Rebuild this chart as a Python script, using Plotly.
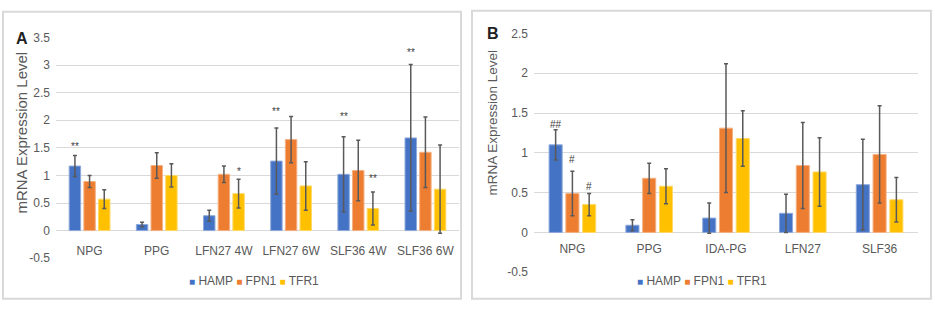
import plotly.graph_objects as go

# ---------------- data ----------------
series = ["HAMP", "FPN1", "TFR1"]
colors = ["#4472C4", "#ED7D31", "#FFC000"]
edge_colors = ["#8EA9DB", "#F4B183", "#FFD966"]

cats_A = ["NPG", "PPG", "LFN27 4W", "LFN27 6W", "SLF36 4W", "SLF36 6W"]
hamp_A = [1.17, 0.11, 0.27, 1.26, 1.02, 1.68]
hamp_A_err = [0.19, 0.04, 0.10, 0.60, 0.68, 1.33]
fpn1_A = [0.89, 1.18, 1.02, 1.65, 1.09, 1.42]
fpn1_A_err = [0.11, 0.23, 0.15, 0.42, 0.55, 0.64]
tfr1_A = [0.57, 1.00, 0.67, 0.81, 0.40, 0.75]
tfr1_A_err = [0.17, 0.21, 0.26, 0.44, 0.30, 0.80]
# significance marks: (category, series index, label, y)
sig_A = [("NPG", 0, "**", 1.53), ("LFN27 4W", 2, "*", 1.08), ("LFN27 6W", 0, "**", 2.16),
         ("SLF36 4W", 0, "**", 2.06), ("SLF36 4W", 2, "**", 0.95), ("SLF36 6W", 0, "**", 3.22)]
yticks_A = [-0.5, 0, 0.5, 1, 1.5, 2, 2.5, 3, 3.5]
yticktext_A = ["-0.5", "0", "0.5", "1", "1.5", "2", "2.5", "3", "3.5"]

cats_B = ["NPG", "PPG", "IDA-PG", "LFN27", "SLF36"]
hamp_B = [1.10, 0.09, 0.18, 0.24, 0.60]
hamp_B_err = [0.19, 0.07, 0.19, 0.24, 0.57]
fpn1_B = [0.49, 0.68, 1.31, 0.84, 0.98]
fpn1_B_err = [0.28, 0.19, 0.81, 0.54, 0.61]
tfr1_B = [0.35, 0.58, 1.18, 0.76, 0.41]
tfr1_B_err = [0.14, 0.22, 0.35, 0.43, 0.28]
sig_B = [("NPG", 0, "##", 1.36), ("NPG", 1, "#", 0.91), ("NPG", 2, "#", 0.58)]
yticks_B = [-0.5, 0, 0.5, 1, 1.5, 2, 2.5]
yticktext_B = ["-0.5", "0", "0.5", "1", "1.5", "2", "2.5"]

ytitle = "mRNA Expression Level"

# ---------------- layout geometry (px) ----------------
W, H = 935, 311
SANS = "Liberation Sans, Arial, sans-serif"
GRAY = "#595959"

def px_x(p):
    return p / W

def px_y(p):
    return (H - p) / H

pA = dict(x0=56, x1=459, ytop=32, ybot=263, rng=[-0.5, 3.5])
pB = dict(x0=534, x1=918, ytop=27.7, ybot=277.7, rng=[-0.5, 2.5])
BARGAP = 0.345
GROUPGAP = 0.22

fig = go.Figure()

def add_panel(cats, vals, errs, xa, ya):
    for i, name in enumerate(series):
        fig.add_trace(go.Bar(
            x=cats, y=vals[i], name=name, xaxis=xa, yaxis=ya,
            marker=dict(color=colors[i], line=dict(color=edge_colors[i], width=1)),
            error_y=dict(type="data", array=errs[i], visible=True, color=GRAY,
                         thickness=1.5, width=2),
            showlegend=False,
        ))

add_panel(cats_A, [hamp_A, fpn1_A, tfr1_A], [hamp_A_err, fpn1_A_err, tfr1_A_err], "x", "y")
add_panel(cats_B, [hamp_B, fpn1_B, tfr1_B], [hamp_B_err, fpn1_B_err, tfr1_B_err], "x2", "y2")

def zero_pos(p):
    y0 = px_y(p["ybot"]); y1 = px_y(p["ytop"])
    r0, r1 = p["rng"]
    return y0 + (0 - r0) / (r1 - r0) * (y1 - y0)

axis_common = dict(showline=False, zeroline=False, ticks="")
tickf = dict(family=SANS, size=12, color=GRAY)
fig.update_layout(
    width=W, height=H, margin=dict(l=0, r=0, t=0, b=0), autosize=False,
    paper_bgcolor="white", plot_bgcolor="white",
    barmode="group", bargap=BARGAP, bargroupgap=GROUPGAP,
    xaxis=dict(domain=[px_x(pA["x0"]), px_x(pA["x1"])], anchor="free", position=zero_pos(pA),
               showgrid=False, tickfont=tickf, ticklabelstandoff=11, **axis_common),
    yaxis=dict(domain=[px_y(pA["ybot"]), px_y(pA["ytop"])], range=pA["rng"],
               anchor="free", position=px_x(pA["x0"]),
               tickvals=yticks_A, ticktext=yticktext_A, showgrid=True, gridcolor="#D9D9D9",
               gridwidth=1, tickfont=tickf, ticklabelstandoff=6, **axis_common),
    xaxis2=dict(domain=[px_x(pB["x0"]), px_x(pB["x1"])], anchor="free", position=zero_pos(pB),
                showgrid=False, tickfont=tickf, ticklabelstandoff=8, **axis_common),
    yaxis2=dict(domain=[px_y(pB["ybot"]), px_y(pB["ytop"])], range=pB["rng"],
                anchor="free", position=px_x(pB["x0"]),
                tickvals=yticks_B, ticktext=yticktext_B, showgrid=True, gridcolor="#D9D9D9",
                gridwidth=1, tickfont=tickf, ticklabelstandoff=6, **axis_common),
)

# panel borders
for (x0, x1, y0, y1) in [(3, 461, 5, 305.5), (472, 931, 4, 305.5)]:
    fig.add_shape(type="rect", xref="paper", yref="paper",
                  x0=px_x(x0), x1=px_x(x1), y0=px_y(y1), y1=px_y(y0),
                  line=dict(color="#D9D9D9", width=2), fillcolor="rgba(0,0,0,0)", layer="below")

def ann(text, x, y, size, color=GRAY, angle=0):
    fig.add_annotation(text=text, xref="paper", yref="paper", x=px_x(x), y=px_y(y),
                       xanchor="center", yanchor="middle", textangle=angle, showarrow=False,
                       font=dict(family=SANS, size=size, color=color))

# panel letters
ann("<b>A</b>", 21.5, 33, 16, "#222222")
ann("<b>B</b>", 492.5, 27.5, 16, "#222222")

# y-axis titles
ann(ytitle, 21.5, 132, 15, GRAY, -90)
ann(ytitle, 493, 121, 13.5, GRAY, -90)

# significance marks
def add_sig(sigs, cats, p, xr, yr):
    catpx = (p["x1"] - p["x0"]) / len(cats)
    slot = catpx * (1 - BARGAP) / 3
    for cat, si, lab, yv in sigs:
        fig.add_annotation(text=lab, x=cat, y=yv, xref=xr, yref=yr, showarrow=False,
                           xanchor="center", yanchor="middle",
                           xshift=(si - 1) * slot, font=dict(family=SANS, size=10, color="#404040"))

add_sig(sig_A, cats_A, pA, "x", "y")
add_sig(sig_B, cats_B, pB, "x2", "y2")

# legends (compact, Excel style)
def legend_text():
    parts = []
    for c, n in zip(colors, series):
        parts.append(f"<span style='color:{c};font-size:10px'>■</span> {n}")
    return " ".join(parts)

ann(legend_text(), 253.5, 287, 12)
ann(legend_text(), 701.5, 287, 12)

post = (
    "var s=document.documentElement.style;s.margin='0';s.padding='0';s.overflow='hidden';s.height='311px';"
    "var b=document.body.style;b.margin='0';b.padding='0';b.overflow='hidden';b.height='311px';"
)
fig.write_html("out.html", post_script=post, config={"displayModeBar": False})
